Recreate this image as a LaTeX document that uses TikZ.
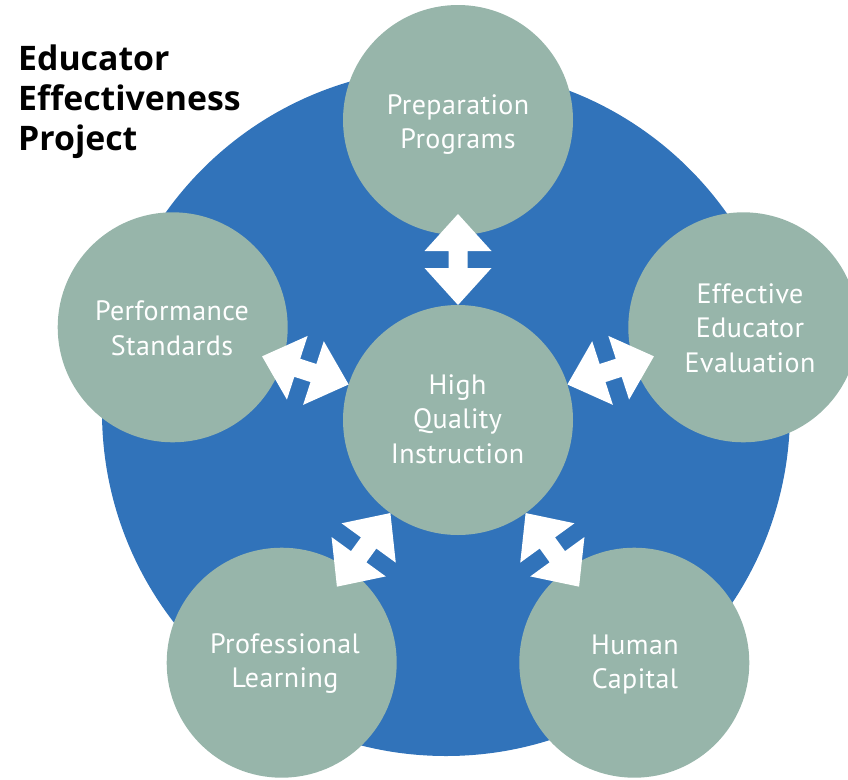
\documentclass[tikz,border=0pt]{standalone}
\usepackage{fontspec}
\setmainfont{PT Sans}
\newfontfamily\lblfont[LetterSpace=1.5]{PT Sans}
\newfontfamily\titlefont{Open Sans}
\usetikzlibrary{calc}
\definecolor{bluebg}{HTML}{3173BA}
\definecolor{sage}{HTML}{97B5AA}
\begin{document}
\begin{tikzpicture}[x=1pt,y=-1pt,
  bubble/.style={circle,fill=sage,minimum size=230pt,inner sep=0pt},
  lbl/.style={text=white,align=center,inner sep=0pt,font=\lblfont\fontsize{28}{34.5}\selectfont},
  link/.style={fill=white}]
\useasboundingbox (0,0) rectangle (848,779);
\begin{scope}
\clip (0,0) rectangle (848,779);
\fill[bluebg] (446,412) circle[radius=344pt];
\node[bubble] (pp) at (458,120) {};
\node[bubble] (ps) at (172.7,327.3) {};
\node[bubble] (ee) at (743.3,327.3) {};
\node[bubble] (pl) at (281.7,662.7) {};
\node[bubble] (hc) at (634.3,662.7) {};
\node[bubble] (hq) at (458,420) {};
\foreach \o/\a in {pp/90,ps/162,ee/18,pl/234,hc/306}
  \path[link,shift={(hq.center)},rotate=\a] (115,0) -- (152,33.5) -- (152,9.5)
    -- (169,9.5) -- (169,33.5) -- (206,0) -- (169,-33.5) -- (169,-9.5)
    -- (152,-9.5) -- (152,-33.5) -- cycle;
\end{scope}
\node[lbl] (ppt) at (458,124.5) {Preparation\\Programs};
\node[lbl] (pst) at (172,328.5) {Performance\\Standards};
\node[lbl] (eet) at (750,328) {Effective\\Educator\\Evaluation};
\node[lbl] (hqt) at (457.5,419) {High\\Quality\\Instruction};
\node[lbl] (plt) at (285,663.5) {Professional\\Learning};
\node[lbl] (hct) at (635,664.5) {Human\\Capital};
\node[anchor=north west,align=left,inner sep=0pt,
  font=\titlefont\bfseries\fontsize{33.8}{40}\selectfont] (title) at (18,45)
  {Educator\\Effectiveness\\Project};
\end{tikzpicture}
\end{document}
